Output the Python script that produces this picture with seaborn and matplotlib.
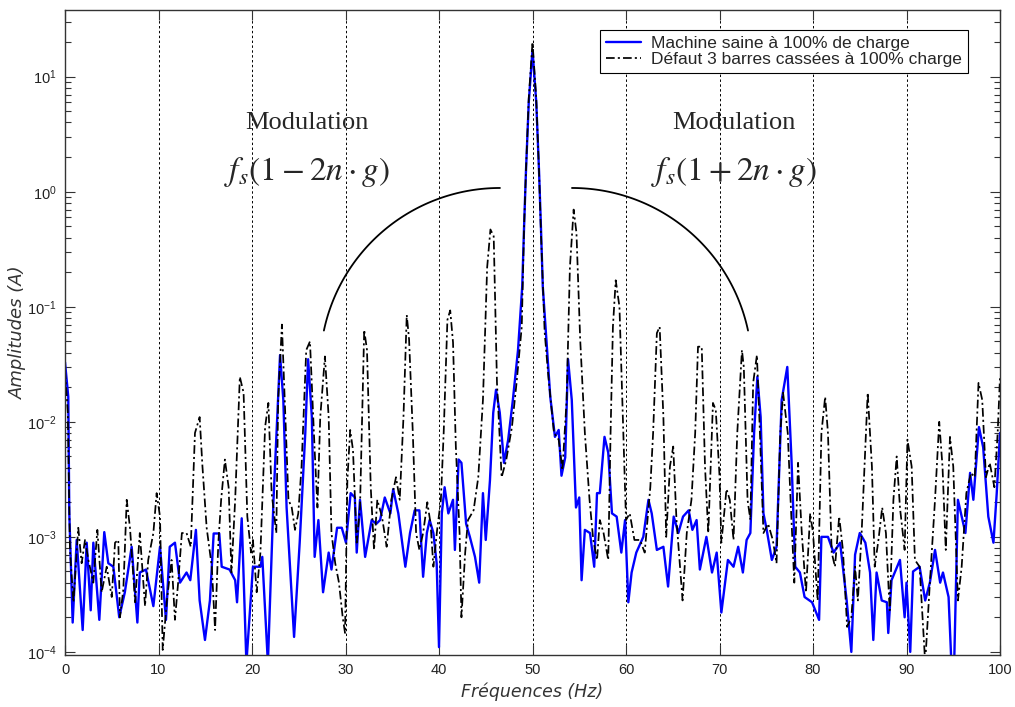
import numpy as np
import matplotlib
matplotlib.use("Agg")
import matplotlib.pyplot as plt
from matplotlib.ticker import LogLocator
import seaborn as sns

# spectre machine saine (Hz, A)
freq_sain = [
    0.0, 0.35, 0.46, 0.82, 1.25, 1.89, 2.32, 2.75, 3.03, 3.67,
    4.2, 4.63, 5.17, 5.8, 6.4, 7.13, 7.74, 8.0, 8.66, 9.45,
    10.16, 10.8, 11.2, 11.76, 12.3, 13.0, 13.4, 14.0, 14.4, 14.97,
    15.5, 15.9, 16.5, 16.76, 17.6, 18.2, 18.4, 18.9, 19.4, 20.1,
    20.9, 21.1, 21.7, 22.3, 23.0, 23.35, 23.7, 24.5, 25.1, 25.7,
    26.0, 26.4, 26.7, 27.1, 27.6, 28.2, 28.5, 29.1, 29.6, 30.05,
    30.55, 31.0, 31.2, 31.55, 32.1, 32.8, 33.3, 33.7, 34.2, 34.8,
    35.1, 35.65, 36.4, 36.9, 37.4, 37.9, 38.3, 38.7, 39.0, 39.4,
    39.75, 40.0, 40.3, 40.6, 41.0, 41.5, 41.7, 42.1, 42.4, 42.9,
    43.3, 43.85, 44.3, 44.7, 45.0, 45.45, 45.8, 46.1, 46.5, 46.95,
    47.4, 47.9, 48.45, 48.9, 49.1, 49.3, 49.6, 50.0, 50.4, 50.7,
    50.9, 51.1, 51.5, 51.9, 52.4, 52.8, 53.1, 53.5, 53.8, 54.2,
    54.65, 55.0, 55.25, 55.6, 56.15, 56.6, 56.9, 57.2, 57.7, 58.1,
    58.5, 59.0, 59.5, 59.9, 60.25, 60.6, 61.1, 61.85, 62.4, 62.75,
    63.3, 64.0, 64.5, 65.1, 65.6, 66.1, 66.7, 67.1, 67.55, 67.9,
    68.6, 69.2, 69.7, 70.2, 70.9, 71.5, 72.0, 72.5, 72.9, 73.3,
    73.7, 74.05, 74.4, 74.7, 75.05, 75.6, 76.1, 76.65, 77.25, 77.7,
    78.1, 78.6, 79.1, 79.9, 80.65, 80.9, 81.6, 82.2, 82.9, 83.6,
    84.1, 84.5, 85.0, 85.6, 86.1, 86.45, 86.8, 87.35, 87.9, 88.05,
    88.4, 89.3, 89.8, 90.0, 90.4, 90.7, 91.4, 92.0, 92.5, 93.05,
    93.6, 93.9, 94.5, 94.8, 95.1, 95.5, 95.9, 96.3, 96.8, 97.15,
    97.75, 98.2, 98.75, 99.3, 99.65, 100.0,
]
amp_sain = [
    0.033, 0.0165, 0.0016, 0.00018, 0.00094, 0.000155, 0.00089, 0.00023, 0.00089, 0.00019,
    0.0011, 0.00059, 0.00055, 0.0002, 0.00033, 0.00082, 0.00018, 0.00049, 0.00052, 0.00025,
    0.00082, 0.00019, 0.00082, 0.00089, 0.0004, 0.00049, 0.00042, 0.00115, 0.00028, 0.000127,
    0.00028, 0.00107, 0.00107, 0.00055, 0.00052, 0.00042, 0.00027, 0.00145, 0.00008, 0.00055,
    0.00055, 0.00067, 0.00008, 0.0021, 0.038, 0.0155, 0.0018, 0.000135, 0.00089, 0.008,
    0.035, 0.011, 0.00067, 0.0014, 0.00033, 0.00073, 0.00052, 0.0012, 0.0012, 0.00089,
    0.0024, 0.0022, 0.00073, 0.0021, 0.00067, 0.0014, 0.0013, 0.0014, 0.0022, 0.0016,
    0.0026, 0.0016, 0.00055, 0.00108, 0.0017, 0.0017, 0.00045, 0.00108, 0.0014, 0.00108,
    0.00059, 0.00011, 0.0016, 0.0027, 0.0016, 0.0021, 0.00077, 0.0047, 0.0044, 0.0013,
    0.001, 0.00067, 0.0004, 0.0024, 0.00094, 0.0031, 0.012, 0.019, 0.012, 0.0044,
    0.007, 0.0155, 0.042, 0.15, 0.5, 1.5, 6.0, 17.0, 6.0, 1.5,
    0.5, 0.15, 0.05, 0.0165, 0.0074, 0.0085, 0.0034, 0.0049, 0.035, 0.0155,
    0.0018, 0.0022, 0.00042, 0.00115, 0.00108, 0.00055, 0.0024, 0.0024, 0.0074, 0.0054,
    0.0016, 0.0015, 0.00073, 0.0014, 0.00027, 0.00049, 0.00073, 0.001, 0.0021, 0.0016,
    0.00077, 0.00082, 0.00037, 0.0015, 0.00108, 0.0015, 0.0017, 0.00115, 0.0014, 0.00052,
    0.001, 0.00049, 0.00073, 0.00022, 0.00063, 0.00055, 0.00082, 0.00049, 0.00094, 0.00108,
    0.008, 0.0246, 0.011, 0.0016, 0.00115, 0.00063, 0.00082, 0.0155, 0.030, 0.0047,
    0.00055, 0.00049, 0.0003, 0.00027, 0.00019, 0.001, 0.001, 0.00073, 0.00089, 0.00028,
    0.0001, 0.0007, 0.00108, 0.00089, 0.00049, 0.000127, 0.00049, 0.00028, 0.00027, 0.000146,
    0.00042, 0.00063, 0.0002, 0.0004, 0.0001, 0.0005, 0.00055, 0.00028, 0.0004, 0.00077,
    0.0004, 0.00049, 0.0003, 0.00008, 0.00008, 0.0021, 0.0015, 0.00108, 0.0036, 0.0021,
    0.009, 0.006, 0.0015, 0.00089, 0.0024, 0.008,
]

# spectre avec 3 barres cassees
freq_defaut = [
    0.0, 0.3, 0.53, 0.9, 1.42, 1.78, 2.14, 2.5, 3.03, 3.46,
    3.92, 4.46, 5.0, 5.35, 5.7, 5.88, 6.24, 6.6, 6.95, 7.5,
    8.0, 8.56, 8.9, 9.45, 9.8, 10.16, 10.45, 10.9, 11.4, 11.76,
    12.1, 12.5, 13.0, 13.45, 13.9, 14.4, 14.7, 15.15, 15.7, 16.05,
    16.4, 16.7, 17.1, 17.5, 17.8, 18.2, 18.7, 19.1, 19.5, 19.9,
    20.1, 20.5, 20.9, 21.4, 21.75, 22.1, 22.6, 22.8, 23.2, 23.5,
    23.9, 24.25, 24.6, 24.95, 25.3, 25.8, 26.2, 26.7, 27.0, 27.3,
    27.8, 28.2, 28.5, 28.9, 29.3, 29.7, 29.95, 30.2, 30.5, 30.8,
    31.2, 31.55, 32.0, 32.3, 32.7, 33.05, 33.4, 33.9, 34.4, 34.9,
    35.4, 35.8, 36.2, 36.55, 36.8, 37.2, 37.55, 37.9, 38.3, 38.75,
    39.1, 39.4, 39.8, 40.2, 40.5, 40.9, 41.2, 41.5, 41.8, 42.2,
    42.4, 42.8, 43.1, 43.7, 44.2, 44.7, 45.15, 45.5, 45.85, 46.2,
    46.7, 47.2, 47.8, 48.3, 48.85, 49.1, 49.3, 49.6, 50.0, 50.4,
    50.7, 50.9, 51.3, 51.7, 52.3, 52.8, 53.2, 53.65, 54.0, 54.4,
    54.7, 55.1, 55.6, 56.1, 56.5, 56.9, 57.2, 57.6, 58.1, 58.35,
    58.6, 58.9, 59.3, 59.65, 60.0, 60.4, 60.9, 61.5, 62.0, 62.6,
    62.9, 63.3, 63.6, 64.0, 64.3, 64.7, 65.05, 65.4, 66.05, 66.5,
    67.0, 67.4, 67.7, 68.1, 68.45, 68.8, 69.3, 69.6, 70.0, 70.2,
    70.75, 71.1, 71.5, 71.9, 72.4, 72.6, 73.0, 73.3, 73.6, 74.0,
    74.3, 74.7, 75.2, 75.7, 76.1, 76.5, 76.8, 77.3, 77.6, 78.0,
    78.4, 78.8, 79.25, 79.7, 80.0, 80.5, 80.9, 81.3, 81.6, 82.0,
    82.35, 82.8, 83.2, 83.65, 84.1, 84.5, 84.8, 85.2, 85.85, 86.3,
    86.6, 87.0, 87.4, 87.8, 88.2, 88.6, 88.95, 89.3, 89.8, 90.1,
    90.55, 90.9, 91.4, 92.0, 92.5, 93.05, 93.5, 93.85, 94.2, 94.65,
    95.0, 95.5, 95.9, 96.4, 96.9, 97.3, 97.7, 98.1, 98.5, 98.9,
    99.4, 99.75, 100.0,
]
amp_defaut = [
    0.028, 0.012, 0.00077, 0.00027, 0.0012, 0.00059, 0.00094, 0.00063, 0.0004, 0.00115,
    0.00033, 0.00055, 0.0003, 0.00089, 0.00094, 0.0002, 0.00035, 0.0021, 0.0012, 0.00027,
    0.00108, 0.00025, 0.00063, 0.00108, 0.0024, 0.0015, 0.000104, 0.00028, 0.00063, 0.00019,
    0.0004, 0.00108, 0.00108, 0.00082, 0.008, 0.011, 0.0041, 0.0012, 0.00055, 0.000155,
    0.00089, 0.0021, 0.0047, 0.0027, 0.00049, 0.0021, 0.0246, 0.0179, 0.0015, 0.00073,
    0.00094, 0.00033, 0.00073, 0.009, 0.0146, 0.0024, 0.00108, 0.0155, 0.07, 0.0155,
    0.0021, 0.0018, 0.00115, 0.0016, 0.0041, 0.042, 0.05, 0.0057, 0.0018, 0.011,
    0.037, 0.011, 0.00108, 0.00059, 0.0004, 0.0002, 0.000146, 0.0031, 0.0085, 0.0057,
    0.00089, 0.0018, 0.063, 0.042, 0.0027, 0.00077, 0.0021, 0.0015, 0.00082, 0.0021,
    0.0033, 0.0021, 0.011, 0.085, 0.052, 0.008, 0.00108, 0.00077, 0.00108, 0.002,
    0.0013, 0.00055, 0.00115, 0.0021, 0.008, 0.077, 0.093, 0.049, 0.0061, 0.00108,
    0.0002, 0.00073, 0.0014, 0.0017, 0.0033, 0.0155, 0.22, 0.47, 0.41, 0.0218,
    0.0033, 0.0047, 0.009, 0.022, 0.067, 0.5, 1.5, 6.5, 20.0, 6.5,
    1.5, 0.45, 0.06, 0.0246, 0.008, 0.007, 0.0038, 0.0155, 0.22, 0.70,
    0.44, 0.052, 0.008, 0.0021, 0.00094, 0.00063, 0.0014, 0.00108, 0.00063, 0.008,
    0.067, 0.17, 0.1, 0.012, 0.0014, 0.0016, 0.00094, 0.00094, 0.00073, 0.0027,
    0.008, 0.059, 0.067, 0.011, 0.001, 0.0041, 0.0061, 0.0014, 0.00028, 0.00108,
    0.0021, 0.008, 0.045, 0.045, 0.0041, 0.00108, 0.0146, 0.0127, 0.0034, 0.00089,
    0.0026, 0.0021, 0.00094, 0.008, 0.042, 0.030, 0.0021, 0.0014, 0.0218, 0.038,
    0.009, 0.00108, 0.0013, 0.00094, 0.00059, 0.008, 0.0179, 0.008, 0.0021, 0.0004,
    0.0044, 0.00108, 0.00033, 0.0016, 0.00108, 0.00028, 0.008, 0.0165, 0.008, 0.00073,
    0.00055, 0.0015, 0.00077, 0.000165, 0.0002, 0.00055, 0.00028, 0.00108, 0.0179, 0.0041,
    0.00055, 0.00094, 0.0018, 0.00108, 0.00023, 0.0021, 0.005, 0.0018, 0.00077, 0.007,
    0.0041, 0.00063, 0.00055, 0.00008, 0.0004, 0.0021, 0.01, 0.0041, 0.00077, 0.0074,
    0.0041, 0.00028, 0.00055, 0.0024, 0.0036, 0.0033, 0.0218, 0.0155, 0.0033, 0.0044,
    0.0027, 0.008, 0.0246,
]

labels = ["Machine saine à 100% de charge", "Défaut 3 barres cassées à 100% charge"]
xticks = list(range(0, 101, 10))

assert len(freq_sain) == len(amp_sain)
assert len(freq_defaut) == len(amp_defaut)

sns.set_style("ticks")
plt.rcParams["font.family"] = ["Liberation Sans", "DejaVu Sans"]
plt.rcParams["mathtext.fontset"] = "custom"
plt.rcParams["mathtext.rm"] = "Liberation Sans"
plt.rcParams["mathtext.it"] = "Liberation Sans:italic"

fig = plt.figure(figsize=(10.15, 7.07), dpi=100)
ax = fig.add_axes([65 / 1015, 52 / 707, 935 / 1015, 645 / 707])
ax.set_yscale("log")

sns.lineplot(x=freq_sain, y=amp_sain, color="#0000ff", lw=1.7, ax=ax,
             label=labels[0], errorbar=None, sort=False)
sns.lineplot(x=freq_defaut, y=amp_defaut, color="black", lw=1.25, ax=ax,
             linestyle=(0, (5, 1.8, 1.2, 1.8)), label=labels[1],
             errorbar=None, sort=False)

ax.set_xlim(0, 100)
ax.set_ylim(9.4e-5, 38)
ax.set_xticks(xticks)
ax.yaxis.set_major_locator(LogLocator(base=10, numticks=20))
ax.yaxis.set_minor_locator(LogLocator(base=10, subs=np.arange(2, 10), numticks=20))
ax.xaxis.grid(True, color="black", lw=0.7, linestyle=(0, (2.5, 2.5)))
ax.set_axisbelow(True)

ax.tick_params(which="both", direction="in", top=True, right=True,
               colors="#333333", labelsize=10.5, labelcolor="#222222")
ax.tick_params(which="major", length=7, width=0.8, pad=6)
ax.tick_params(which="minor", length=4, width=0.8)
for sp in ax.spines.values():
    sp.set_color("#333333")
    sp.set_linewidth(1.0)

ax.set_xlabel("Fréquences (Hz)", family="DejaVu Sans", fontstyle="italic",
              fontsize=12.5, color="#333333", labelpad=4)
ax.set_ylabel("Amplitudes (A)", family="DejaVu Sans", fontstyle="italic",
              fontsize=13, color="#333333", labelpad=0)

leg = ax.legend(loc="upper right", bbox_to_anchor=(0.966, 0.969), borderaxespad=0,
                frameon=True, fancybox=False, edgecolor="black", framealpha=1,
                fontsize=12.5, handlelength=2.0, handletextpad=0.6,
                borderpad=0.35, labelspacing=0.05)
leg.get_frame().set_linewidth(0.8)

# annotations : modulation autour de fs
for xc, formula in [(0.259, r"$f_s(1-2n\cdot g)$"), (0.715, r"$f_s(1+2n\cdot g)$")]:
    ax.text(xc, 0.825, "Modulation", transform=ax.transAxes, ha="center",
            va="center", family="Liberation Serif", fontsize=19)
    ax.text(xc, 0.749, formula, transform=ax.transAxes, ha="center",
            va="center", fontsize=24, math_fontfamily="stix")

# arcs (cercles en pixels -> fractions d'axes)
rx, ry = 180 / 935, 180 / 645
for cx, t0, t1 in [(0.4652, 90, 168), (0.5422, 12, 90)]:
    t = np.radians(np.linspace(t0, t1, 80))
    ax.plot(cx + rx * np.cos(t), 0.445 + ry * np.sin(t), color="black",
            lw=1.3, transform=ax.transAxes)

fig.savefig("out.png", dpi=100)
